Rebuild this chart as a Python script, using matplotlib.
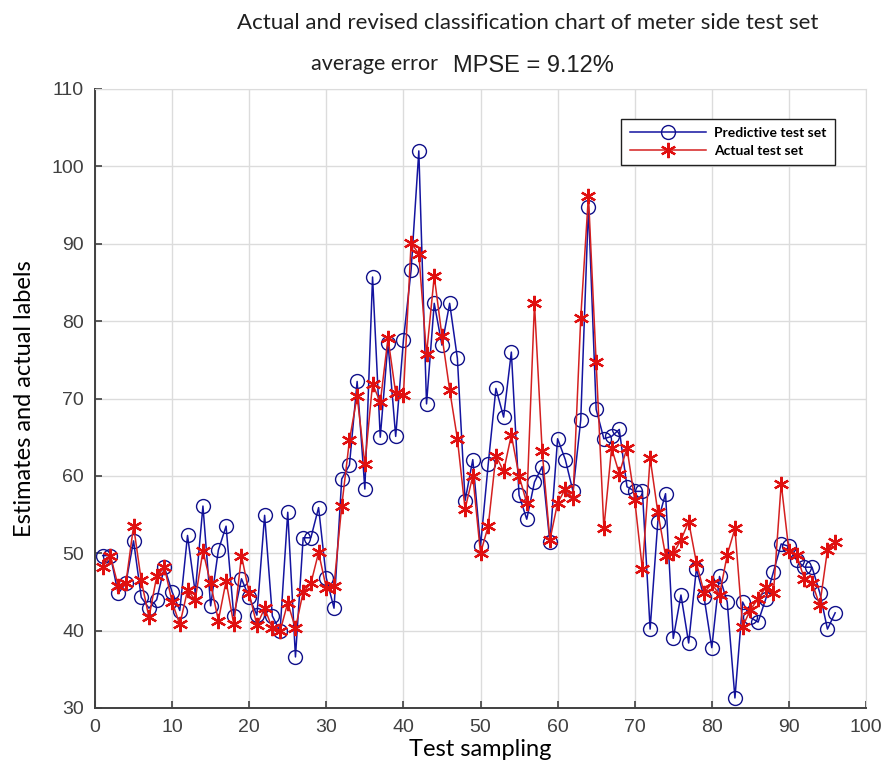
## Actual vs predicted test set chart (MATLAB-style)
import matplotlib
matplotlib.use("Agg")
import matplotlib.pyplot as plt

sample_idx = list(range(1, 97))

predicted = [
    49.7, 49.7, 44.8, 46.1, 51.6, 44.3, 42.9, 44.0, 48.2, 45.0,
    42.6, 52.3, 44.9, 56.1, 43.2, 50.4, 53.5, 41.9, 46.7, 44.3,
    42.0, 54.9, 41.9, 39.9, 55.3, 36.6, 52.0, 52.0, 55.9, 46.8,
    42.9, 59.6, 61.4, 72.2, 58.3, 85.7, 65.0, 77.2, 65.1, 77.5,
    86.6, 102.0, 69.3, 82.3, 76.9, 82.3, 75.2, 56.8, 62.1, 50.9,
    61.5, 71.3, 67.6, 76.0, 57.5, 54.4, 59.2, 61.2, 51.4, 64.8,
    62.1, 58.0, 67.2, 94.8, 68.6, 64.8, 65.1, 66.0, 58.6, 58.0,
    58.0, 40.2, 54.1, 57.7, 39.0, 44.6, 38.4, 48.0, 44.3, 37.8,
    47.0, 43.7, 31.3, 43.7, 41.7, 41.1, 44.1, 47.6, 51.2, 50.9,
    49.1, 48.2, 48.2, 44.9, 40.2, 42.3,
]

actual = [
    48.2, 49.7, 45.8, 46.1, 53.5, 46.5, 41.7, 47.0, 48.2, 43.7,
    40.8, 45.2, 44.0, 50.3, 46.1, 41.3, 46.4, 40.8, 49.7, 44.8,
    40.7, 42.9, 40.3, 39.9, 43.6, 40.3, 45.0, 46.1, 50.1, 45.5,
    45.8, 56.1, 64.6, 70.3, 61.5, 71.9, 69.5, 77.8, 70.7, 70.4,
    90.1, 88.7, 75.7, 85.8, 78.1, 71.1, 64.8, 55.7, 60.0, 50.0,
    53.5, 62.6, 60.6, 65.3, 60.0, 56.5, 82.3, 63.2, 51.7, 56.5,
    58.3, 57.1, 80.4, 96.2, 74.7, 53.2, 63.6, 60.3, 63.6, 56.9,
    47.9, 62.3, 55.3, 49.7, 50.0, 51.7, 54.1, 48.8, 44.9, 46.1,
    44.6, 49.8, 53.2, 40.5, 42.7, 44.1, 45.6, 44.9, 59.0, 50.3,
    49.8, 46.7, 46.2, 43.3, 50.4, 51.5,
]

x_ticks = list(range(0, 101, 10))
y_ticks = list(range(30, 111, 10))

plt.rcParams["font.family"] = ["Liberation Sans", "DejaVu Sans"]
narrow = ["Lato", "DejaVu Sans"]
plain = ["Liberation Sans", "DejaVu Sans"]

W, H = 889, 780
fig = plt.figure(figsize=(W / 100, H / 100), dpi=100)
ax = fig.add_axes([95 / W, 1 - 708 / H, (866 - 95) / W, (708 - 89) / H])

ax.plot(sample_idx, predicted, color="#1414a0", linewidth=1.1,
        marker="o", markersize=10, markerfacecolor="none",
        markeredgecolor="#10108a", markeredgewidth=1.0,
        label="Predictive test set")
ax.plot(sample_idx, actual, color="#d42020", linewidth=1.1,
        marker=(6, 2, 0), markersize=11,
        markeredgecolor="#e01010", markeredgewidth=1.6,
        label="Actual test set")

ax.set_xlim(0, 100)
ax.set_ylim(30, 110)
ax.set_xticks(x_ticks)
ax.set_yticks(y_ticks)
ax.grid(True, color="#dcdcdc", linewidth=1.0)
ax.set_axisbelow(True)

for side in ("top", "right"):
    ax.spines[side].set_color("#dcdcdc")
for side in ("left", "bottom"):
    ax.spines[side].set_color("#404040")
    ax.spines[side].set_linewidth(1.4)

ax.tick_params(direction="in", length=5, width=1.2, color="#404040",
               labelcolor="#404040", labelsize=14, pad=8)

ax.set_xlabel("Test sampling", fontsize=17, family=narrow, labelpad=2)
ax.set_ylabel("Estimates and actual labels", fontsize=17, family=narrow, labelpad=12)

leg = ax.legend(loc="upper right", bbox_to_anchor=(842 / W, 1 - 112 / H),
                bbox_transform=fig.transFigure, fancybox=False,
                edgecolor="#202020", framealpha=1, handlelength=5.5,
                borderpad=0.6, labelspacing=0.4, handletextpad=0.6,
                prop={"family": narrow, "size": 10, "weight": "bold"})
leg.get_frame().set_linewidth(1.0)

fig.text(528 / W, 1 - 23 / H,
         "Actual and revised classification chart of meter side test set",
         ha="center", va="center", fontsize=16, family=narrow, color="#202020")
fig.text(311 / W, 1 - 64 / H, "average error", ha="left", va="center",
         fontsize=15.5, family=narrow, color="#202020")
fig.text(453 / W, 1 - 66 / H, "MPSE = 9.12%", ha="left", va="center",
         fontsize=17, family=plain, color="#202020")

fig.savefig("out.png", dpi=100)
